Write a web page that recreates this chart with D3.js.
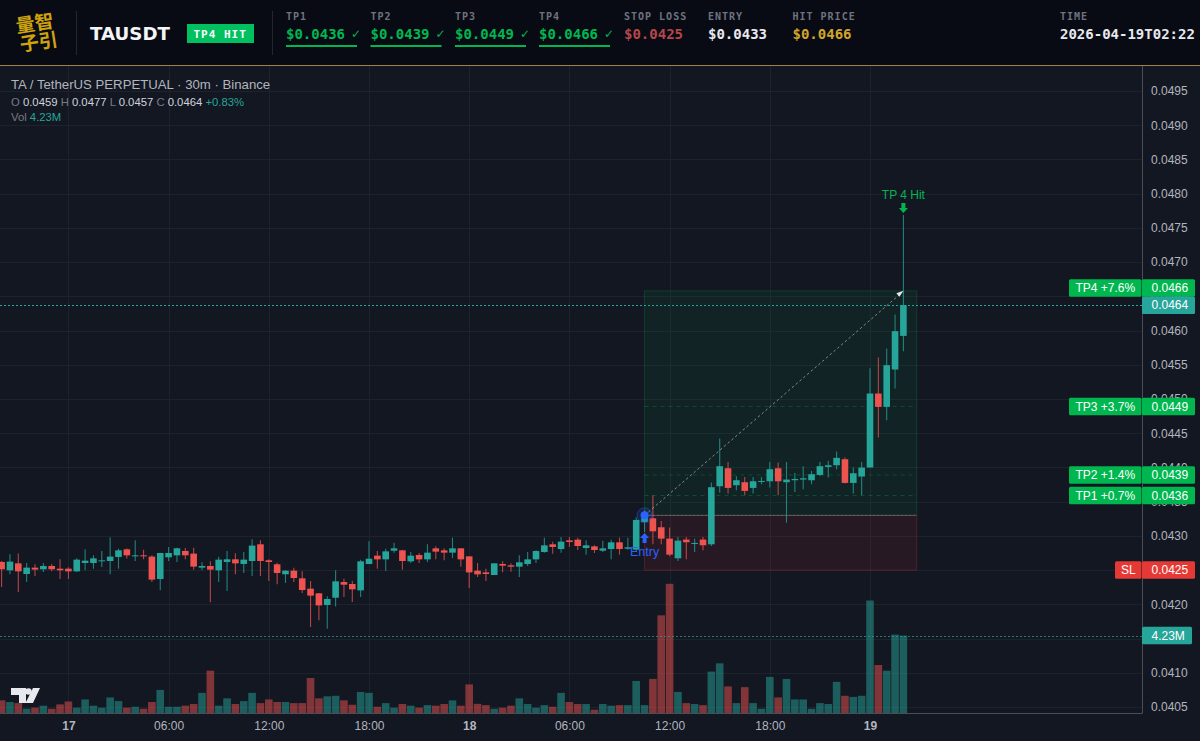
<!DOCTYPE html>
<html>
<head>
<meta charset="utf-8">
<script src="https://cdn.jsdelivr.net/npm/d3@7/dist/d3.min.js"></script>
<style>
    html, body { margin: 0; padding: 0; background: #131722; overflow: hidden; }
    svg { display: block; }
    text { font-family: "Liberation Sans", Arial, sans-serif; }
    .head { font-family: "DejaVu Sans Mono", monospace; font-weight: 700; }
</style>
</head>
<body>
<div id="chart"></div>
<script>
// 30m bars, first visible one opens 2026-04-16 20:00
var opens = [0.042619,0.042497,0.042599,0.042443,0.042536,0.042512,0.042560,0.042521,0.042521,0.042482,
    0.042604,0.042604,0.042633,0.042633,0.042692,0.042804,0.042702,0.042716,0.042697,0.042370,
    0.042687,0.042716,0.042780,0.042741,0.042536,0.042560,0.042497,0.042619,0.042658,0.042590,
    0.042633,0.042877,0.042643,0.042585,0.042439,0.042492,0.042380,0.042229,0.042161,0.041990,
    0.042097,0.042326,0.042297,0.042204,0.042589,0.042711,0.042657,0.042784,0.042789,0.042628,
    0.042721,0.042657,0.042818,0.042789,0.042755,0.042818,0.042701,0.042492,0.042467,0.042428,
    0.042589,0.042570,0.042550,0.042589,0.042657,0.042765,0.042877,0.042808,0.042935,0.042945,
    0.042823,0.042847,0.042784,0.042808,0.042906,0.042813,0.042799,0.043204,0.043257,0.043126,
    0.042960,0.042673,0.042946,0.042882,0.042946,0.042877,0.043725,0.043988,0.043740,0.043784,
    0.043701,0.043789,0.043798,0.043988,0.043784,0.043813,0.043823,0.043813,0.043891,0.044008,
    0.044032,0.044120,0.043774,0.043867,0.043999,0.045080,0.044885,0.045431,0.045922];
var highs = [0.042633,0.042731,0.042741,0.042604,0.042585,0.042604,0.042590,0.042658,0.042541,0.042672,
    0.042804,0.042716,0.042780,0.042975,0.042814,0.042814,0.042936,0.042799,0.042716,0.042755,
    0.042838,0.042828,0.042824,0.042828,0.042614,0.042629,0.042697,0.042780,0.042746,0.042765,
    0.042950,0.042936,0.042658,0.042609,0.042497,0.042536,0.042482,0.042341,0.042166,0.042117,
    0.042497,0.042375,0.042341,0.042653,0.042921,0.042779,0.042813,0.042901,0.042799,0.042765,
    0.042750,0.042877,0.042847,0.042818,0.042974,0.042823,0.042701,0.042604,0.042521,0.042599,
    0.042628,0.042599,0.042716,0.042765,0.042789,0.042974,0.042916,0.042984,0.042984,0.042974,
    0.042935,0.042862,0.042930,0.042945,0.042974,0.042974,0.043267,0.043374,0.043594,0.043218,
    0.043121,0.042984,0.042984,0.042960,0.042984,0.043779,0.044422,0.044081,0.043871,0.043862,
    0.043862,0.043862,0.044081,0.044071,0.044081,0.043920,0.044018,0.043949,0.044081,0.044096,
    0.044232,0.044144,0.043998,0.044081,0.045450,0.045607,0.045738,0.046235,0.047687];
var lows = [0.042253,0.042439,0.042180,0.042326,0.042414,0.042473,0.042482,0.042370,0.042370,0.042473,
    0.042497,0.042521,0.042546,0.042439,0.042521,0.042668,0.042633,0.042658,0.042326,0.042205,
    0.042633,0.042619,0.042658,0.042507,0.042497,0.042029,0.042326,0.042195,0.042439,0.042458,
    0.042414,0.042414,0.042341,0.042292,0.042312,0.042326,0.042166,0.041669,0.041766,0.041644,
    0.041970,0.042107,0.042034,0.042107,0.042589,0.042521,0.042487,0.042755,0.042506,0.042604,
    0.042604,0.042618,0.042657,0.042643,0.042677,0.042550,0.042238,0.042399,0.042341,0.042428,
    0.042467,0.042477,0.042399,0.042560,0.042604,0.042755,0.042740,0.042755,0.042838,0.042794,
    0.042726,0.042750,0.042765,0.042657,0.042726,0.042799,0.042765,0.043058,0.042877,0.042877,
    0.042702,0.042634,0.042658,0.042765,0.042790,0.042853,0.043633,0.043618,0.043667,0.043594,
    0.043618,0.043755,0.043706,0.043594,0.043194,0.043642,0.043681,0.043755,0.043876,0.043852,
    0.043969,0.043764,0.043618,0.043594,0.043999,0.044437,0.044690,0.045154,0.045699];
var closes = [0.042512,0.042624,0.042482,0.042536,0.042507,0.042560,0.042512,0.042497,0.042482,0.042653,
    0.042638,0.042672,0.042643,0.042697,0.042789,0.042716,0.042716,0.042702,0.042361,0.042750,
    0.042750,0.042819,0.042716,0.042551,0.042560,0.042507,0.042653,0.042658,0.042599,0.042653,
    0.042858,0.042633,0.042619,0.042458,0.042492,0.042385,0.042209,0.042127,0.041985,0.042078,
    0.042336,0.042287,0.042219,0.042628,0.042667,0.042657,0.042774,0.042818,0.042633,0.042711,
    0.042657,0.042755,0.042770,0.042755,0.042818,0.042657,0.042467,0.042438,0.042443,0.042599,
    0.042565,0.042550,0.042614,0.042657,0.042779,0.042862,0.042838,0.042916,0.042911,0.042852,
    0.042862,0.042794,0.042818,0.042906,0.042808,0.042833,0.043233,0.043296,0.043067,0.042960,
    0.042726,0.042931,0.042907,0.042897,0.042863,0.043711,0.044018,0.043701,0.043813,0.043657,
    0.043798,0.043803,0.043974,0.043798,0.043823,0.043832,0.043842,0.043901,0.044018,0.044032,
    0.044140,0.043774,0.043915,0.043998,0.045080,0.044885,0.045494,0.045991,0.046371];
// millions
var volumes = [0.69,0.60,0.54,0.23,0.29,0.40,0.23,0.47,0.63,0.29,
    0.74,0.40,0.29,0.85,0.65,0.29,0.34,0.23,0.60,1.26,
    0.34,0.34,0.40,0.49,1.10,2.31,0.40,0.80,0.49,0.65,
    1.10,0.54,0.74,0.60,0.60,0.54,0.54,1.91,0.80,0.91,
    0.94,0.69,0.45,1.15,1.10,0.34,0.54,0.29,0.49,0.40,
    0.29,0.43,0.40,0.49,0.69,0.40,1.56,0.50,0.43,0.23,
    0.29,0.40,0.80,0.49,0.29,0.43,0.34,1.10,0.60,0.49,
    0.49,0.18,0.49,0.40,0.43,0.43,1.75,0.43,1.86,5.33,
    7.05,1.15,0.54,0.49,0.43,2.26,2.71,1.45,0.54,1.41,
    0.54,0.23,1.97,0.85,1.86,0.74,0.74,0.23,0.54,0.49,
    1.70,0.94,0.88,0.94,6.14,2.62,2.31,4.28,4.23];

var priceTicks = [0.0495,0.049,0.0485,0.048,0.0475,0.047,0.0465,0.046,0.0455,0.045,0.0445,0.044,0.0435,0.043,0.0425,0.042,0.0415,0.041,0.0405];
// these two sit fully behind the SL and volume tags
var coveredTicks = [0.0425,0.0415];
var timeTicks = ["2026-04-17T00:00Z","2026-04-17T06:00Z","2026-04-17T12:00Z","2026-04-17T18:00Z","2026-04-18T00:00Z","2026-04-18T06:00Z","2026-04-18T12:00Z","2026-04-18T18:00Z","2026-04-19T00:00Z"];
var timeLabels = ["17","06:00","12:00","18:00","18","06:00","12:00","18:00","19"];

var tpNames = ["TP1","TP2","TP3","TP4"];
var tpPrices = [0.04359,0.04389,0.04489,0.04662];
var tpPct = ["+0.7%","+1.4%","+3.7%","+7.6%"];
var zoneTop = 0.04658;
var stopPrice = 0.0425;
var entryPrice = 0.0433;
var lastVol = 4.23;

var W = 1200, H = 741;
var headerH = 65;
var axisX = 1142;
var bottomY = 713;
var upColor = "#26a69a", downColor = "#ef5350", tpGreen = "#00b74f";

var barTime = function (i) {
    return new Date(Date.UTC(2026, 3, 16, 20) + i * 30 * 60000);
};
var x = d3.scaleUtc().domain([barTime(0), barTime(108)]).range([1.6, 903.4]);
var y = d3.scaleLinear().domain([0.0495, 0.0405]).range([91, 707]);
var yVol = d3.scaleLinear().domain([0, lastVol]).range([bottomY, 635.5]);
var bars = d3.range(opens.length);
var lastClose = closes[closes.length - 1];

var svg = d3.select("#chart").append("svg").attr("width", W).attr("height", H);
svg.append("defs").append("clipPath").attr("id", "plotClip")
    .append("rect").attr("x", 0).attr("y", headerH).attr("width", axisX).attr("height", bottomY - headerH);

svg.append("rect").attr("width", W).attr("height", H).attr("fill", "#131722");

// grid
var grid = svg.append("g");
grid.selectAll(".gy").data(priceTicks).enter().append("line")
    .attr("x1", 0).attr("x2", axisX)
    .attr("y1", (d) => Math.round(y(d)) + 0.5).attr("y2", (d) => Math.round(y(d)) + 0.5)
    .attr("stroke", "#1e222d");
grid.selectAll(".gx").data(timeTicks).enter().append("line")
    .attr("x1", (d) => Math.round(x(new Date(d))) + 0.5).attr("x2", (d) => Math.round(x(new Date(d))) + 0.5)
    .attr("y1", headerH).attr("y2", bottomY)
    .attr("stroke", "#1e222d");

var plot = svg.append("g").attr("clip-path", "url(#plotClip)");

// volume
plot.selectAll(".vol").data(bars).enter().append("rect")
    .attr("x", (i) => x(barTime(i)) - 3.8)
    .attr("width", 7.6)
    .attr("y", (i) => yVol(volumes[i]))
    .attr("height", (i) => bottomY - yVol(volumes[i]))
    .attr("fill", (i) => closes[i] >= opens[i] ? upColor : downColor)
    .attr("fill-opacity", 0.5);

// target and stop zones
var zoneStart = x(barTime(77)), zoneEnd = x(barTime(109.6));
plot.append("rect").attr("x", zoneStart).attr("width", zoneEnd - zoneStart)
    .attr("y", y(zoneTop)).attr("height", y(entryPrice) - y(zoneTop))
    .attr("fill", "#00c853").attr("fill-opacity", 0.07)
    .attr("stroke", "#00c853").attr("stroke-opacity", 0.2);
plot.append("rect").attr("x", zoneStart).attr("width", zoneEnd - zoneStart)
    .attr("y", y(entryPrice)).attr("height", y(stopPrice) - y(entryPrice))
    .attr("fill", "#f23645").attr("fill-opacity", 0.09)
    .attr("stroke", "#f23645").attr("stroke-opacity", 0.25);
plot.selectAll(".tpline").data(tpPrices.slice(0, 3)).enter().append("line")
    .attr("x1", zoneStart).attr("x2", zoneEnd)
    .attr("y1", (d) => y(d)).attr("y2", (d) => y(d))
    .attr("stroke", "#00c853").attr("stroke-opacity", 0.25).attr("stroke-dasharray", "4 4");
plot.append("line").attr("x1", zoneStart).attr("x2", zoneEnd)
    .attr("y1", y(entryPrice)).attr("y2", y(entryPrice))
    .attr("stroke", "#787b86").attr("stroke-opacity", 0.7).attr("stroke-dasharray", "3 1");

// candles
plot.selectAll(".wick").data(bars).enter().append("line")
    .attr("x1", (i) => x(barTime(i))).attr("x2", (i) => x(barTime(i)))
    .attr("y1", (i) => y(highs[i])).attr("y2", (i) => y(lows[i]))
    .attr("stroke", (i) => closes[i] >= opens[i] ? upColor : downColor)
    .attr("stroke-opacity", 0.75).attr("stroke-width", 1.1);
plot.selectAll(".body").data(bars).enter().append("rect")
    .attr("x", (i) => x(barTime(i)) - 3.3)
    .attr("width", 6.6)
    .attr("y", (i) => y(Math.max(opens[i], closes[i])))
    .attr("height", (i) => Math.max(1, Math.abs(y(opens[i]) - y(closes[i]))))
    .attr("fill", (i) => closes[i] >= opens[i] ? upColor : downColor);

// last price and last volume lines
plot.append("line").attr("x1", 0).attr("x2", axisX)
    .attr("y1", Math.round(y(lastClose)) + 0.5).attr("y2", Math.round(y(lastClose)) + 0.5)
    .attr("stroke", upColor).attr("stroke-dasharray", "2 2");
plot.append("line").attr("x1", 0).attr("x2", axisX)
    .attr("y1", Math.round(yVol(lastVol)) + 0.5).attr("y2", Math.round(yVol(lastVol)) + 0.5)
    .attr("stroke", upColor).attr("stroke-opacity", 0.7).attr("stroke-dasharray", "2 2");

// entry to hit arrow
var hitX = x(barTime(108)), hitY = y(zoneTop);
var entryX = x(barTime(77)), entryY = y(entryPrice);
plot.append("line").attr("x1", entryX).attr("y1", entryY).attr("x2", hitX - 3).attr("y2", hitY + 3)
    .attr("stroke", "#b2b5be").attr("stroke-opacity", 0.7).attr("stroke-dasharray", "2.5 2.5");
plot.append("path")
    .attr("d", `M${hitX},${hitY} l-7,2.5 l3,3.5 z`)
    .attr("fill", "#e8eaf0");

plot.append("circle").attr("cx", entryX).attr("cy", entryY).attr("r", 7.5)
    .attr("fill", "#2962ff").attr("fill-opacity", 0.15).attr("stroke", "#2962ff").attr("stroke-opacity", 0.45);
plot.append("circle").attr("cx", entryX).attr("cy", entryY).attr("r", 4).attr("fill", "#2962ff");

plot.append("path")
    .attr("d", `M${entryX},533 l4.5,5 h-2.5 v5 h-4 v-5 h-2.5 z`)
    .attr("fill", "#2962ff");
plot.append("text").attr("x", entryX).attr("y", 556).attr("text-anchor", "middle")
    .attr("font-size", 12.5).attr("fill", "#2962ff").text("Entry");

plot.append("path")
    .attr("d", `M${hitX},213 l-4.5,-5 h2.5 v-5 h4 v5 h2.5 z`)
    .attr("fill", tpGreen);
plot.append("text").attr("x", hitX).attr("y", 199).attr("text-anchor", "middle")
    .attr("font-size", 12).attr("fill", tpGreen).text("TP 4 Hit");

// tv logo
var logo = svg.append("g").attr("fill", "#e8e9ee");
logo.append("path").attr("d", "M11,688 h15 v15 h-7 v-8 h-8 z");
logo.append("circle").attr("cx", 28.5).attr("cy", 691.5).attr("r", 3.2);
logo.append("path").attr("d", "M33,688 h7 l-7,15 h-7.5 z");

// axes
var yAxis = d3.axisRight(y).tickValues(priceTicks.filter((d) => coveredTicks.indexOf(d) < 0))
    .tickSize(0).tickPadding(9).tickFormat(d3.format(".4f"));
var yAxisG = svg.append("g").attr("transform", `translate(${axisX},0)`).call(yAxis);
yAxisG.select(".domain").remove();
yAxisG.selectAll("text").attr("font-size", 12).attr("fill", "#b2b5be")
    .style("font-family", '"Liberation Sans", Arial, sans-serif');

var xAxis = d3.axisBottom(x).tickValues(timeTicks.map((d) => new Date(d))).tickSize(0).tickPadding(8)
    .tickFormat((d, i) => timeLabels[i]);
var xAxisG = svg.append("g").attr("transform", `translate(0,${bottomY})`).call(xAxis);
xAxisG.select(".domain").remove();
xAxisG.selectAll("text").attr("font-size", 12).attr("fill", "#b2b5be")
    .style("font-family", '"Liberation Sans", Arial, sans-serif')
    .attr("font-weight", (d, i) => timeLabels[i].length == 2 ? 700 : 400);

svg.append("line").attr("x1", axisX + 0.5).attr("x2", axisX + 0.5).attr("y1", headerH).attr("y2", bottomY + 0.5).attr("stroke", "#4a4e59");
svg.append("line").attr("x1", 0).attr("x2", axisX).attr("y1", bottomY + 0.5).attr("y2", bottomY + 0.5).attr("stroke", "#4a4e59");

// price tags on the axis
var tag = function (x0, cy, w, label, color, textX) {
    svg.append("rect").attr("x", x0).attr("y", cy - 8.75).attr("width", w).attr("height", 17.5).attr("rx", 1.5).attr("fill", color);
    svg.append("text").attr("x", textX === undefined ? x0 + w / 2 : textX).attr("y", cy + 4.3)
        .attr("text-anchor", textX === undefined ? "middle" : "start")
        .attr("font-size", 12).attr("fill", "#fff").text(label);
};
tpPrices.forEach(function (p, i) {
    tag(1069, y(p), 72.5, tpNames[i] + " " + tpPct[i], tpGreen);
    tag(axisX, y(p), 53, p.toFixed(4), tpGreen, 1151.5);
});
tag(1115, y(stopPrice), 26.5, "SL", "#e53935");
tag(axisX, y(stopPrice), 53, stopPrice.toFixed(4), "#e53935", 1151.5);
tag(axisX, y(lastClose), 53, lastClose.toFixed(4), upColor, 1151.5);
tag(axisX, yVol(lastVol), 50, lastVol.toFixed(2) + "M", upColor, 1151.5);

// legend
var legend = svg.append("g");
legend.append("text").attr("x", 11).attr("y", 89).attr("font-size", 13.2).attr("fill", "#b2b5be")
    .text("TA / TetherUS PERPETUAL · 30m · Binance");
var ohlc = legend.append("text").attr("x", 11).attr("y", 106).attr("font-size", 11.3);
[["O ", "#787b86"], ["0.0459 ", "#d1d4dc"], ["H ", "#787b86"], ["0.0477 ", "#d1d4dc"], ["L ", "#787b86"], ["0.0457 ", "#d1d4dc"],
 ["C ", "#787b86"], ["0.0464 ", "#d1d4dc"], ["+0.83%", upColor]].forEach(function (p) {
    ohlc.append("tspan").attr("fill", p[1]).text(p[0]);
});
var volText = legend.append("text").attr("x", 11).attr("y", 121).attr("font-size", 11.3);
volText.append("tspan").attr("fill", "#787b86").text("Vol ");
volText.append("tspan").attr("fill", upColor).text("4.23M");

// header
var header = svg.append("g");
header.append("rect").attr("width", W).attr("height", headerH).attr("fill", "#080b14");
header.append("line").attr("x1", 0).attr("x2", W).attr("y1", 65.5).attr("y2", 65.5).attr("stroke", "#9c8440");
header.append("line").attr("x1", 76.5).attr("x2", 76.5).attr("y1", 11).attr("y2", 55).attr("stroke", "#23262f");
header.append("line").attr("x1", 272.5).attr("x2", 272.5).attr("y1", 11).attr("y2", 55).attr("stroke", "#23262f");

var logoMark = header.append("g").attr("fill", "#cfa30c").attr("transform", "rotate(-9 36 32)")
    .attr("font-weight", 700).attr("font-size", 19);
logoMark.append("text").attr("x", 17).attr("y", 30).style("font-family", '"Noto Sans CJK SC"').text("量智");
logoMark.append("text").attr("x", 18).attr("y", 49).style("font-family", '"Noto Sans CJK SC"').text("子引");

header.append("text").attr("x", 90).attr("y", 40).attr("font-size", 18.2).attr("font-weight", 700)
    .style("font-family", '"DejaVu Sans"').attr("fill", "#f4f5f7").text("TAUSDT");
header.append("rect").attr("x", 187).attr("y", 24).attr("width", 67).attr("height", 19).attr("fill", "#00c060");
header.append("text").attr("class", "head").attr("x", 193.5).attr("y", 38).attr("font-size", 11)
    .attr("letter-spacing", 1).attr("fill", "#fff").text("TP4 HIT");

var labelX = [286, 370.5, 455, 539];
var field = function (fx, label, value, color) {
    header.append("text").attr("class", "head").attr("x", fx).attr("y", 19.5).attr("font-size", 10)
        .attr("letter-spacing", 1).attr("fill", "#6f7380").text(label);
    return header.append("text").attr("class", "head").attr("x", fx).attr("y", 39).attr("font-size", 14)
        .attr("fill", color).text(value);
};
tpPrices.forEach(function (p, i) {
    field(labelX[i], tpNames[i], "$" + p.toFixed(4), tpGreen);
    header.append("text").attr("x", labelX[i] + 65).attr("y", 38).attr("font-size", 12)
        .attr("fill", tpGreen).style("font-family", '"DejaVu Sans"').text("✓");
    header.append("rect").attr("x", labelX[i]).attr("y", 45).attr("width", 71).attr("height", 2).attr("fill", tpGreen);
});
field(624, "STOP LOSS", "$" + stopPrice.toFixed(4), "#b5474a");
field(708, "ENTRY", "$" + entryPrice.toFixed(4), "#e8e9ee");
field(792.5, "HIT PRICE", "$0.0466", "#d2a52a");
field(1060, "TIME", "2026-04-19T02:22", "#e8e9ee");
</script>
</body>
</html>
